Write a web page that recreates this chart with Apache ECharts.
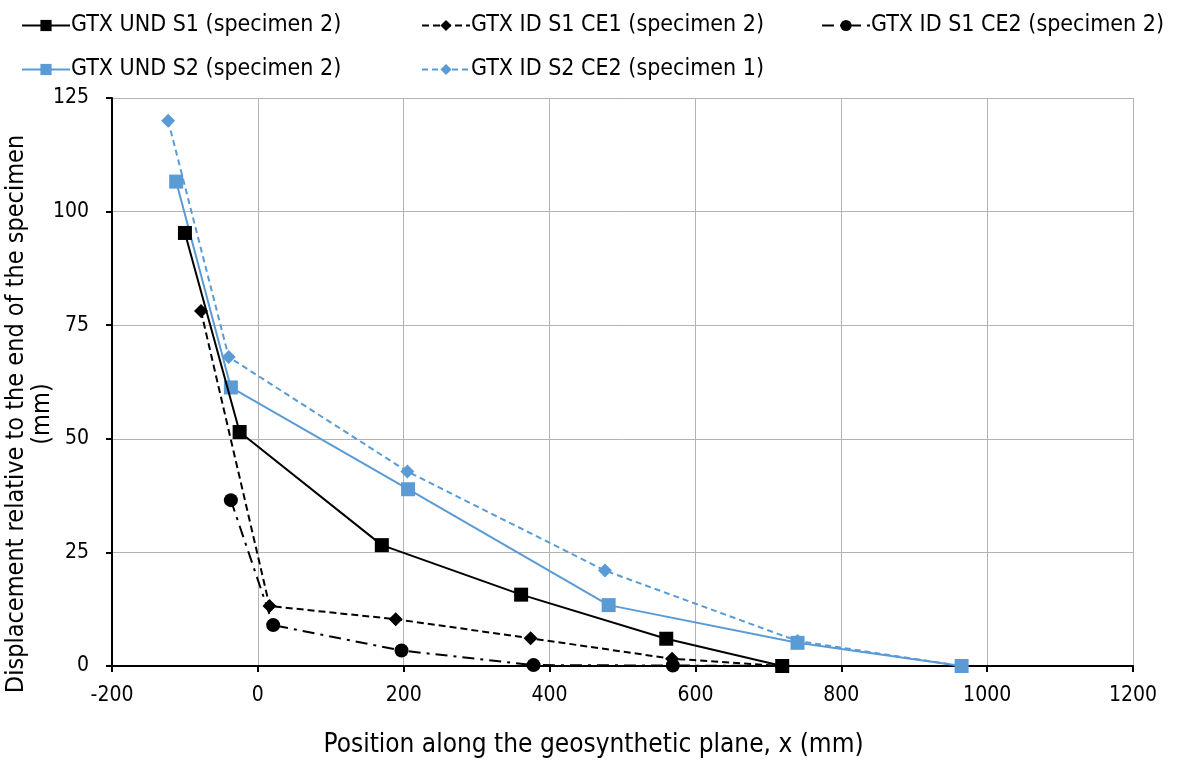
<!DOCTYPE html>
<html>
	<head>
		<meta charset="UTF-8">
		<title>Displacement chart</title>
		<style>
			html,body{margin:0;padding:0;background:#fff;}
			#chart{width:1184px;height:760px;}
		</style>
	</head>
	<body>
		<div id="chart"></div>
		<script type="text/javascript" src="https://cdn.jsdelivr.net/npm/echarts@6/dist/echarts.min.js"></script>
		<script type="text/javascript">
			// series values: [x (mm), displacement (mm)]
			var und_s1 = [[-100,95.3],[-25,51.5],[170,26.6],[361,15.7],[560,6.0],[719,0]];
			var id_s1_ce1 = [[-78,78.1],[16,13.2],[189,10.3],[374,6.1],[568,1.6],[719,0]];
			var id_s1_ce2 = [[-37,36.5],[21,9.0],[197,3.4],[378,0.2],[569,0.1],[719,0]];
			var und_s2 = [[-112,106.6],[-37,61.3],[206,38.9],[481,13.4],[740,5.1],[965,0]];
			var id_s2_ce2 = [[-123,120],[-40,68],[205,42.8],[476,21.0],[740,5.5],[965,0]];

			var names = ['GTX UND S1 (specimen 2)','GTX ID S1 CE1 (specimen 2)','GTX ID S1 CE2 (specimen 2)','GTX UND S2 (specimen 2)','GTX ID S2 CE2 (specimen 1)'];
			var xTicks = {min:-200, max:1200, interval:200};
			var yTicks = {min:0, max:125, interval:25};

			var font = '"DejaVu Sans Condensed","DejaVu Sans",sans-serif';
			var blue = '#5b9bd5';

			function legendAt(name, left, top){
				return {
					data:[name],
					left:left,
					top:top,
					itemWidth:48,
					itemHeight:14,
					itemGap:0,
					textStyle:{fontFamily:font, fontSize:23, color:'#000', padding:[0,0,0,-4]}
				};
			}

			var chart = echarts.init(document.getElementById('chart'));
			var options = {
				animation:false,
				textStyle:{fontFamily:font},
				legend:[
					legendAt(names[0], 16, 9),
					legendAt(names[1], 416, 9),
					legendAt(names[2], 816, 9),
					legendAt(names[3], 16, 53),
					legendAt(names[4], 416, 53)
				],
				grid:{
					left:112,
					right:51,
					top:98,
					bottom:94,
					containLabel:false,
					outerBoundsMode:'none'
				},
				xAxis:{
					type:'value',
					min:xTicks.min,
					max:xTicks.max,
					interval:xTicks.interval,
					name:'Position along the geosynthetic plane, x (mm)',
					nameLocation:'middle',
					nameGap:66,
					nameMoveOverlap:false,
					nameTextStyle:{fontFamily:font, fontSize:26, color:'#000', padding:[0,58,0,0]},
					axisLine:{onZero:false, lineStyle:{color:'#000', width:2}},
					axisTick:{show:true, length:6, lineStyle:{color:'#000', width:2}},
					axisLabel:{fontFamily:font, fontSize:21, color:'#000', margin:19, formatter:function(v){return String(v);}},
					splitLine:{lineStyle:{color:'#b3b3b3', width:1}}
				},
				yAxis:{
					type:'value',
					min:yTicks.min,
					max:yTicks.max,
					interval:yTicks.interval,
					name:'Displacement relative to the end of the specimen\n(mm)',
					nameLocation:'middle',
					nameGap:57,
					nameMoveOverlap:false,
					nameTextStyle:{fontFamily:font, fontSize:25, color:'#000', lineHeight:26, padding:[0,64,0,0]},
					axisLine:{onZero:false, lineStyle:{color:'#000', width:2}},
					axisTick:{show:true, length:6, lineStyle:{color:'#000', width:2}},
					axisLabel:{fontFamily:font, fontSize:21, color:'#000', margin:23},
					splitLine:{lineStyle:{color:'#b3b3b3', width:1}}
				},
				series:[
					{
						name:names[0],
						type:'line',
						data:und_s1,
						symbol:'rect',
						symbolSize:14,
						itemStyle:{color:'#000'},
						lineStyle:{color:'#000', width:2, type:'solid'},
						z:5
					},
					{
						name:names[1],
						type:'line',
						data:id_s1_ce1,
						symbol:'diamond',
						symbolSize:14,
						itemStyle:{color:'#000'},
						lineStyle:{color:'#000', width:2, type:[7,4]},
						z:4
					},
					{
						name:names[2],
						type:'line',
						data:id_s1_ce2,
						symbol:'circle',
						symbolSize:14,
						itemStyle:{color:'#000'},
						lineStyle:{color:'#000', width:2, type:[12,6,3,6]},
						z:4
					},
					{
						name:names[3],
						type:'line',
						data:und_s2,
						symbol:'rect',
						symbolSize:14,
						itemStyle:{color:blue},
						lineStyle:{color:blue, width:2, type:'solid'},
						z:3
					},
					{
						name:names[4],
						type:'line',
						data:id_s2_ce2,
						symbol:'diamond',
						symbolSize:14,
						itemStyle:{color:blue},
						lineStyle:{color:blue, width:2, type:[6,4]},
						z:2
					}
				]
			};
			chart.setOption(options);
		</script>
	</body>
</html>
